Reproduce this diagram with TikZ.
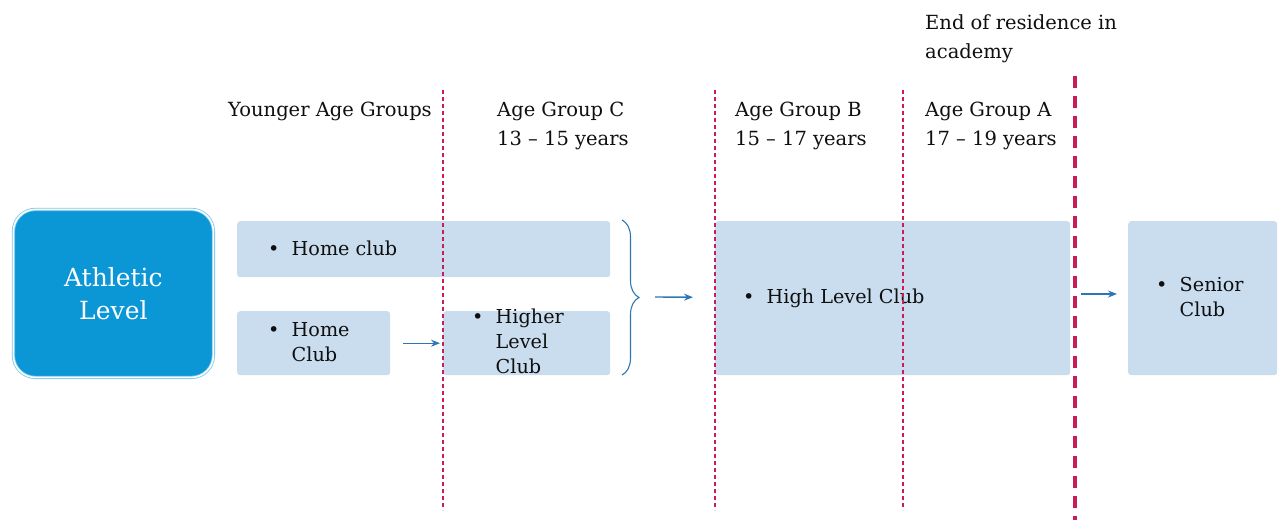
\documentclass[tikz,border=0pt]{standalone}
\usepackage{fontspec}
\setmainfont{DejaVu Serif}
\usetikzlibrary{decorations.pathreplacing,arrows.meta}
\definecolor{boxfill}{RGB}{201,221,239}
\definecolor{athblue}{RGB}{11,150,214}
\definecolor{athedge}{RGB}{120,200,235}
\definecolor{dashred}{RGB}{200,30,85}
\definecolor{arrblue}{RGB}{46,117,182}
\definecolor{txt}{RGB}{15,15,15}
\tikzset{
  lbox/.style={fill=boxfill, draw=none, rounded corners=3pt, inner sep=0pt},
  lbl/.style={anchor=north west, align=left, inner sep=0pt, font=\fontsize{19.5}{29}\selectfont, text=txt},
  btxt/.style={anchor=west, align=left, inner sep=0pt, font=\fontsize{19.2}{25}\selectfont, text=txt},
  thindash/.style={draw=dashred, line width=1.2pt, dash pattern=on 4pt off 3pt},
  thickdash/.style={draw=dashred, line width=3.5pt, dash pattern=on 12pt off 8pt},
  arr/.style={draw=arrblue, line width=1.4pt, -{Stealth[length=9pt,width=7pt]}},
}
\begin{document}
\begin{tikzpicture}[x=1pt,y=-1pt]
\useasboundingbox (0,0) rectangle (1285,520);
% boxes
\node[lbox, minimum width=373, minimum height=56, anchor=north west] (home1) at (237,221) {};
\node[lbox, minimum width=153, minimum height=64, anchor=north west] (home2) at (237,311) {};
\node[lbox, minimum width=167, minimum height=64, anchor=north west] (higher) at (443,311) {};
\node[lbox, minimum width=355, minimum height=154, anchor=north west] (high) at (715,221) {};
\node[lbox, minimum width=149, minimum height=154, anchor=north west] (senior) at (1128,221) {};
% athletic box
\node[draw=athedge, line width=0.8pt, double=white, double distance=1.6pt, fill=athblue, rounded corners=22pt,
  minimum width=200, minimum height=168, anchor=north west, text=white, align=center,
  font=\fontsize{25}{33}\selectfont] (ath) at (13,209) {Athletic\\Level};
% box texts
\node[btxt] (t1) at (268,248) {\textbullet\ \ Home club};
\node[btxt] (t2) at (268,342) {\textbullet\ \ Home\\\phantom{\textbullet\ \ }Club};
\node[btxt] (t3) at (472,341) {\textbullet\ \ Higher\\\phantom{\textbullet\ \ }Level\\\phantom{\textbullet\ \ }Club};
\node[btxt] (t4) at (743,298) {\textbullet\ \ High Level Club};
\node[btxt] (t5) at (1156,297) {\textbullet\ \ Senior\\\phantom{\textbullet\ \ }Club};
% dashed lines
\coordinate (d1t) at (443,90); \coordinate (d1b) at (443,510);
\coordinate (d2t) at (715,90); \coordinate (d2b) at (715,510);
\coordinate (d3t) at (903,90); \coordinate (d3b) at (903,510);
\coordinate (d4t) at (1075,76); \coordinate (d4b) at (1075,520);
\draw[thindash] (d1t) -- (d1b);
\draw[thindash] (d2t) -- (d2b);
\draw[thindash] (d3t) -- (d3b);
\draw[thickdash] (d4t) -- (d4b);
% labels
\node[lbl] (younger) at (228,102) {Younger Age Groups};
\node[lbl] (agc) at (497,102) {Age Group C\\13 – 15 years};
\node[lbl] (agb) at (735,102) {Age Group B\\15 – 17 years};
\node[lbl] (aga) at (925,102) {Age Group A\\17 – 19 years};
\node[lbl] (endres) at (925,14) {End of residence in\\academy};
% brace
\coordinate (bt) at (622,220);
\coordinate (bb) at (622,375);
\draw[draw=arrblue, line width=1.1pt, decorate, decoration={brace, amplitude=17pt}] (bt) -- (bb);
\coordinate (btip) at (640,297);
% arrows
\draw[arr] ([xshift=13pt]home2.east) -- ([xshift=-3pt]higher.west);
\draw[arr] ([xshift=15pt]btip) -- ([xshift=-22pt,yshift=1pt]high.west);
\coordinate (sa) at (1081,294);
\draw[arr] (sa) -- ([xshift=-11pt]senior.west |- sa);
\end{tikzpicture}
\end{document}
